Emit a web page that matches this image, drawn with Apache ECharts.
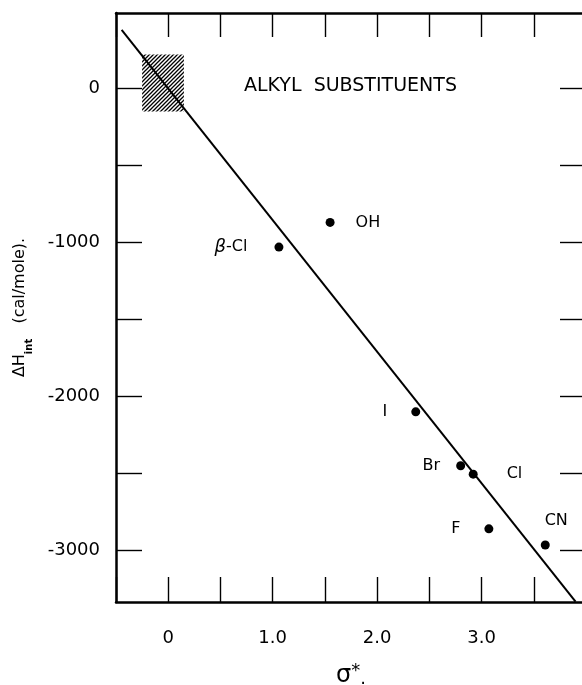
<!DOCTYPE html>
<html><head><meta charset="utf-8">
<script src="https://cdn.jsdelivr.net/npm/echarts@6/dist/echarts.min.js"></script>
<style>html,body{margin:0;padding:0;background:#fff}#c{width:582px;height:685px}</style>
</head><body><div id="c"></div>
<script>
// ---- data ----
const names     = ['β-Cl', 'OH', 'I', 'Br', 'Cl', 'F', 'CN'];
const sigmaStar = [1.06, 1.55, 2.37, 2.80, 2.92, 3.07, 3.61];
const deltaH    = [-1030, -870, -2100, -2450, -2505, -2860, -2965];
const fitX = [-0.446, 3.90];
const fitY = [381, -3333];
const hatchX = [-0.25, 0.15];
const hatchY = [220, -150];
const xTicks  = [-0.5, 0, 0.5, 1, 1.5, 2, 2.5, 3, 3.5, 4];
const xLabels = [0, 1, 2, 3];
const yTicks  = [-3000, -2500, -2000, -1500, -1000, -500, 0];
const yLabels = [-3000, -2000, -1000, 0];
const xRange = [-0.5, 4.0];
const yRange = [-3335, 490];
const panelTitle = 'ALKYL  SUBSTITUENTS';

// ---- styling / layout ----
const FONT = 'DejaVu Sans';
const labelPlace = {
  'β-Cl': {position: 'left', distance: 27},
  'OH':   {position: 'right', distance: 21},
  'I':    {position: 'left', distance: 24},
  'Br':   {position: 'left', distance: 16},
  'Cl':   {position: 'right', distance: 29},
  'F':    {position: 'left', distance: 24},
  'CN':   {position: 'top', distance: 12, offset: [11, 0]}
};

const pc = document.createElement('canvas'); pc.width = 4; pc.height = 4;
const g = pc.getContext('2d'); g.strokeStyle = '#000'; g.lineWidth = 1.3;
g.beginPath();
g.moveTo(0, 4); g.lineTo(4, 0);
g.moveTo(-1, 1); g.lineTo(1, -1);
g.moveTo(3, 5); g.lineTo(5, 3);
g.stroke();

const axisLine = {show: true, onZero: false, lineStyle: {color: '#000', width: 2.5}};
const tickStyle = {color: '#000', width: 1.4};

const chart = echarts.init(document.getElementById('c'), null, {renderer: 'canvas'});
chart.setOption({
  animation: false,
  backgroundColor: '#fff',
  title: {
    text: panelTitle, left: 244, top: 77, padding: 0,
    textStyle: {fontFamily: FONT, fontSize: 19, fontWeight: 'normal', color: '#000'}
  },
  grid: {left: 116, right: -4, top: 13, bottom: 83, containLabel: false, outerBoundsMode: 'none'},
  xAxis: [{
    type: 'value', position: 'bottom', min: xRange[0], max: xRange[1],
    axisLine: axisLine,
    axisTick: {show: true, inside: true, length: 25, customValues: xTicks, lineStyle: tickStyle},
    axisLabel: {show: true, customValues: xLabels, margin: 27, color: '#000', fontFamily: FONT, fontSize: 18,
      formatter: v => v === 0 ? '0' : v.toFixed(1)},
    splitLine: {show: false},
    name: '{s|σ}{u|*}{d|.}', nameLocation: 'middle', nameGap: 60,
    nameTextStyle: {
      color: '#000', fontFamily: FONT,
      rich: {
        s: {fontSize: 24, fontFamily: FONT, color: '#000', verticalAlign: 'bottom', lineHeight: 26},
        u: {fontSize: 18, fontFamily: FONT, color: '#000', verticalAlign: 'top', lineHeight: 26},
        d: {fontSize: 18, fontFamily: FONT, color: '#000', verticalAlign: 'bottom', lineHeight: 26}
      }
    }
  }, {
    type: 'value', position: 'top', min: xRange[0], max: xRange[1],
    axisLine: axisLine,
    axisTick: {show: true, inside: true, length: 24, customValues: xTicks, lineStyle: tickStyle},
    axisLabel: {show: false},
    splitLine: {show: false}
  }],
  yAxis: [{
    type: 'value', position: 'left', min: yRange[0], max: yRange[1],
    axisLine: axisLine,
    axisTick: {show: true, inside: true, length: 26, customValues: yTicks, lineStyle: tickStyle},
    axisLabel: {show: true, customValues: yLabels, margin: 16, color: '#000', fontFamily: FONT, fontSize: 18,
      formatter: v => String(v)},
    splitLine: {show: false},
    name: '{a|ΔH}{b|int}{a|   (cal/mole).}', nameLocation: 'middle', nameGap: 82, nameRotate: 90,
    nameTextStyle: {
      color: '#000', fontFamily: FONT,
      rich: {
        a: {fontSize: 16, fontFamily: FONT, color: '#000', verticalAlign: 'top', lineHeight: 22},
        b: {fontSize: 10, fontFamily: FONT, fontWeight: 'bold', color: '#000', verticalAlign: 'bottom', lineHeight: 22}
      }
    }
  }, {
    type: 'value', position: 'right', min: yRange[0], max: yRange[1],
    axisLine: axisLine,
    axisTick: {show: true, inside: true, length: 26, customValues: yTicks, lineStyle: tickStyle},
    axisLabel: {show: false},
    splitLine: {show: false}
  }],
  series: [{
    type: 'line', xAxisIndex: 0, yAxisIndex: 0,
    data: fitX.map((x, i) => [x, fitY[i]]),
    showSymbol: false, symbol: 'none', silent: true,
    lineStyle: {color: '#000', width: 2},
    z: 3,
    markArea: {
      silent: true,
      itemStyle: {color: {image: pc, repeat: 'repeat'}, opacity: 1},
      data: [[{coord: [hatchX[0], hatchY[0]]}, {coord: [hatchX[1], hatchY[1]]}]]
    }
  }, {
    type: 'scatter', xAxisIndex: 0, yAxisIndex: 0,
    symbol: 'circle', symbolSize: 9,
    itemStyle: {color: '#000', opacity: 1},
    z: 4,
    data: names.map((n, i) => {
      const p = labelPlace[n];
      return {
        value: [sigmaStar[i], deltaH[i]], name: n,
        label: Object.assign({
          show: true,
          formatter: n === 'β-Cl' ? '{i|β}-Cl' : n,
          color: '#000', fontFamily: FONT, fontSize: 16, opacity: 1,
          rich: {i: {fontSize: 18, fontStyle: 'italic', fontFamily: FONT, color: '#000'}}
        }, p)
      };
    })
  }]
});
</script></body></html>
